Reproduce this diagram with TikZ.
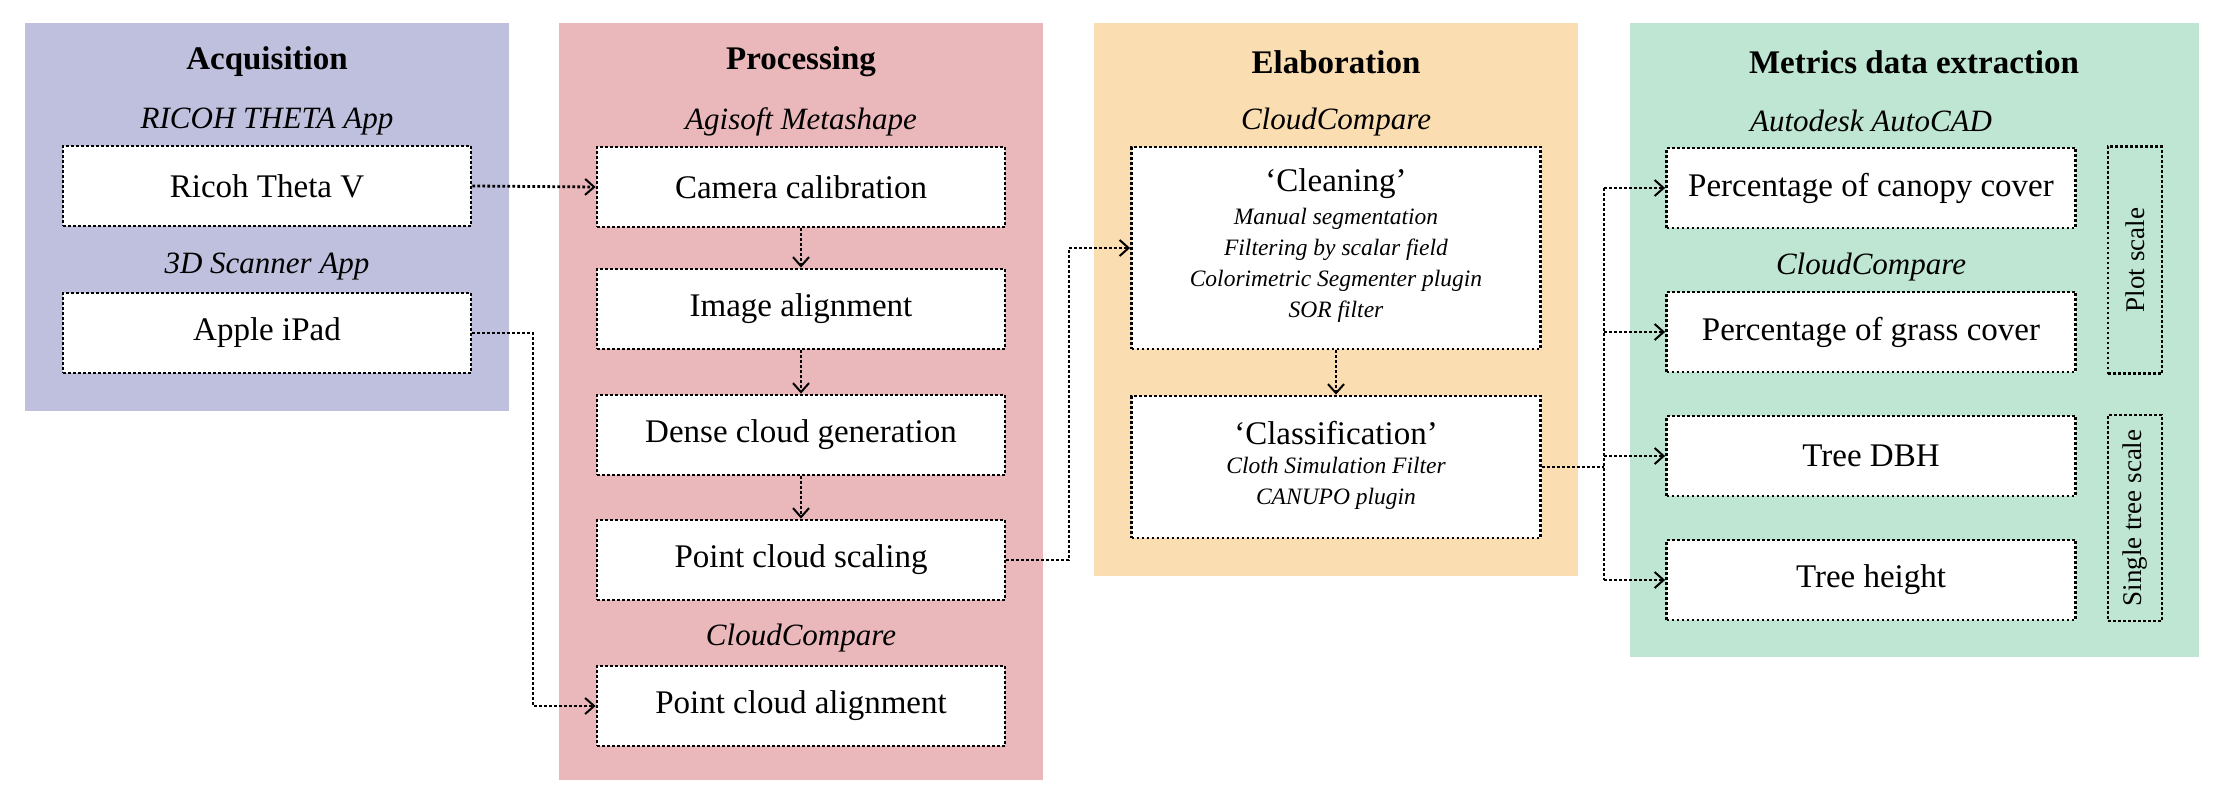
\documentclass[tikz,border=0pt]{standalone}
\usepackage{fontspec}
\setmainfont{Liberation Serif}
\usetikzlibrary{arrows.meta}
\definecolor{cA}{HTML}{BFC0DD}
\definecolor{cP}{HTML}{EAB8BB}
\definecolor{cE}{HTML}{FADDB0}
\definecolor{cM}{HTML}{BFE5D3}
\begin{document}
\begin{tikzpicture}[x=1pt,y=-1pt,
  dt/.style={line width=2.8pt,dash pattern=on 2.8pt off 2.2pt},
  box/.style={draw,fill=white,dt,minimum width=408pt,minimum height=80pt,inner sep=0,font=\fontsize{33}{38}\selectfont,align=center},
  ttl/.style={font=\fontsize{33}{38}\selectfont\bfseries},
  sub/.style={font=\fontsize{31}{36}\selectfont\itshape},
  small/.style={font=\fontsize{23.5}{31}\selectfont\itshape,align=center,anchor=north},
  conn/.style={dt,-{Straight Barb[length=9pt,width=16pt,line width=2pt]}},
  line/.style={dt}]
\useasboundingbox (0,0) rectangle (2221,797);
\fill[cA] (25,23) rectangle (509,411);
\fill[cP] (559,23) rectangle (1043,780);
\fill[cE] (1094,23) rectangle (1578,576);
\fill[cM] (1630,23) rectangle (2199,657);
\node[ttl] (tA) at (267,62) {Acquisition};
\node[ttl] (tP) at (801,62) {Processing};
\node[ttl] (tE) at (1336,62) {Elaboration};
\node[ttl] (tM) at (1914,62) {Metrics data extraction};
\node[sub] (s1) at (267,122) {RICOH THETA App};
\node[sub] (s2) at (267,267) {3D Scanner App};
\node[sub] (s3) at (801,122) {Agisoft Metashape};
\node[sub] (s4) at (801,638) {CloudCompare};
\node[sub] (s5) at (1336,122) {CloudCompare};
\node[sub] (s6) at (1871,121) {Autodesk AutoCAD};
\node[sub] (s7) at (1871,267) {CloudCompare};
\node[box] (ricoh) at (267,186) {Ricoh Theta V};
\node[box] (ipad) at (267,333) {Apple iPad};
\node[box] (cam) at (801,187) {Camera calibration};
\node[box] (img) at (801,309) {Image alignment};
\node[box] (dense) at (801,435) {Dense cloud generation};
\node[box] (scal) at (801,560) {Point cloud scaling};
\node[box] (pca) at (801,706) {Point cloud alignment};
\node[box,minimum width=409pt,minimum height=202pt] (clean) at (1336,248) {};
\node[font=\fontsize{33}{38}\selectfont] (cl1) at (1336,184) {`Cleaning'};
\node[small] (cl2) at (1336,205) {Manual segmentation\\Filtering by scalar field\\Colorimetric Segmenter plugin\\SOR filter};
\node[box,minimum width=409pt,minimum height=142pt] (class) at (1336,467) {};
\node[font=\fontsize{33}{38}\selectfont] (cs1) at (1336,433) {`Classification'};
\node[small] (cs2) at (1336,454) {Cloth Simulation Filter\\CANUPO plugin};
\node[box,minimum width=409pt] (can) at (1871,188) {Percentage of canopy cover};
\node[box,minimum width=409pt] (gra) at (1871,332) {Percentage of grass cover};
\node[box,minimum width=409pt] (dbh) at (1871,456) {Tree DBH};
\node[box,minimum width=409pt] (hei) at (1871,580) {Tree height};
\node[draw,dt,minimum width=54pt,minimum height=227pt,inner sep=0] (plot) at (2135,260) {};
\node[rotate=90,font=\fontsize{27}{30}\selectfont] (plotl) at (plot.center) {Plot scale};
\node[draw,dt,minimum width=54pt,minimum height=206pt,inner sep=0] (sing) at (2135,518) {};
\node[rotate=90,font=\fontsize{27}{30}\selectfont] (singl) at (sing.center) {Single tree scale};
\draw[conn] (ricoh.east) -- (cam.west);
\draw[conn] (ipad.east) -- (533,333) |- (pca.west);
\draw[conn] (cam.south) -- (img.north);
\draw[conn] (img.south) -- (dense.north);
\draw[conn] (dense.south) -- (scal.north);
\draw[conn] (scal.east) -- (1069,560) |- (clean.west);
\draw[conn] (clean.south) -- (class.north);
\draw[line] (class.east) -- (1604,467);
\draw[conn] (1604,188) -- (can.west);
\draw[line] (1604,188) -- (1604,580);
\draw[conn] (1604,332) -- (gra.west);
\draw[conn] (1604,456) -- (dbh.west);
\draw[conn] (1604,580) -- (hei.west);
\end{tikzpicture}
\end{document}
